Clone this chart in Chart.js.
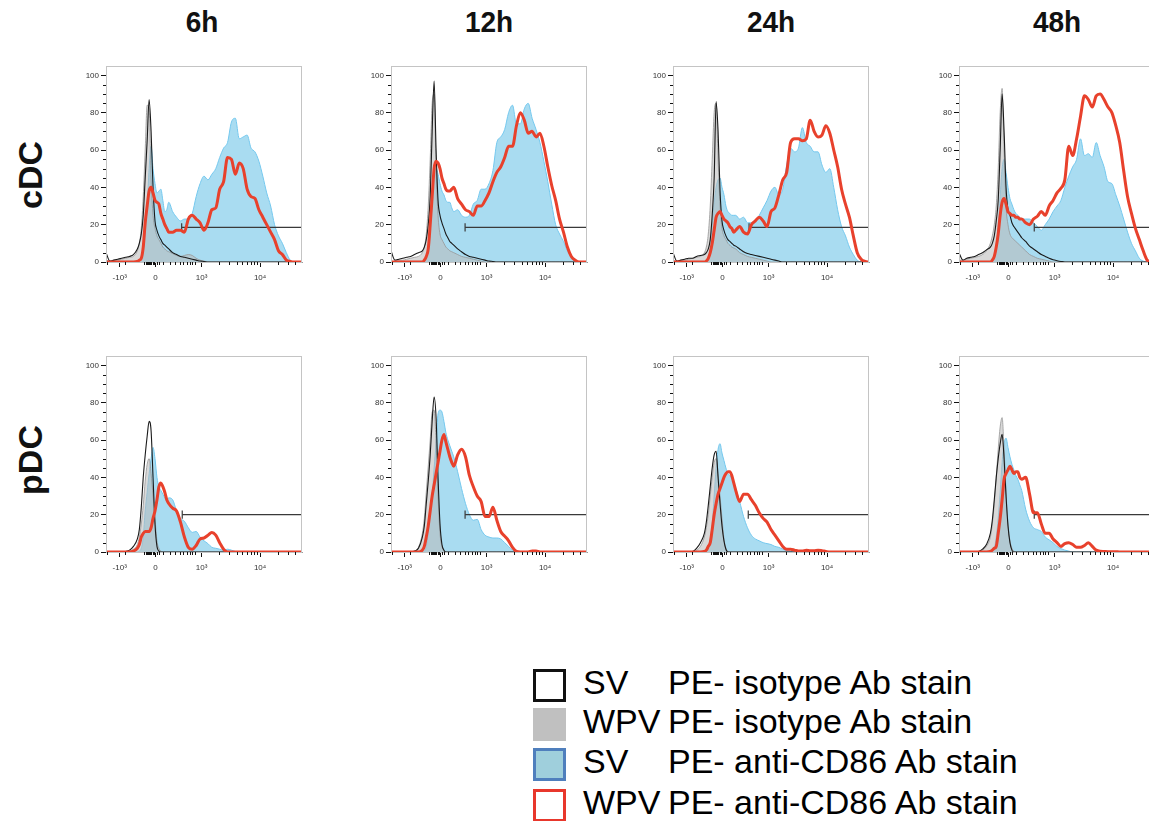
<!DOCTYPE html>
<html lang="en">
<head>
    <meta charset="UTF-8">
    <title>CD86 histograms</title>
    <script src="https://cdn.jsdelivr.net/npm/chart.js@4.4.1/dist/chart.umd.min.js"></script>
    <style>
        body { margin: 0; width: 1149px; height: 821px; overflow: hidden; background: #fff;
               font-family: "Liberation Sans", Arial, sans-serif; position: relative; }
        canvas { position: absolute; }
        .col-title { position: absolute; top: 6px; width: 196px; text-align: center;
                     font-weight: bold; font-size: 28px; color: #111; transform: scaleY(1.08); }
        .row-title { position: absolute; left: 30px; font-weight: bold; font-size: 34px; color: #111;
                     transform: translate(-50%, -50%) rotate(-90deg); white-space: nowrap; }
        .legend { position: absolute; left: 533px; top: 669px; }
        .leg-row { position: absolute; left: 0; height: 40px; width: 600px; font-size: 34px; color: #000; }
        .leg-box { position: absolute; left: 0; top: 0; width: 33px; height: 33px; box-sizing: border-box; }
        .leg-a { position: absolute; left: 50px; top: -6px; }
        .leg-b { position: absolute; left: 135px; top: -6px; }
    </style>
</head>
<body>
    <div class="col-title" style="left:104px">6h</div>
    <div class="col-title" style="left:391px">12h</div>
    <div class="col-title" style="left:673px">24h</div>
    <div class="col-title" style="left:959px">48h</div>
    <div class="row-title" style="top:175px">cDC</div>
    <div class="row-title" style="top:460px">pDC</div>

    <div class="legend">
        <div class="leg-row" style="top:0px">
            <div class="leg-box" style="border:3px solid #111;background:#fff"></div>
            <span class="leg-a">SV</span><span class="leg-b">PE- isotype Ab stain</span>
        </div>
        <div class="leg-row" style="top:39px">
            <div class="leg-box" style="background:#c0c0c0"></div>
            <span class="leg-a">WPV</span><span class="leg-b">PE- isotype Ab stain</span>
        </div>
        <div class="leg-row" style="top:79px">
            <div class="leg-box" style="border:3px solid #4f7fbd;background:#9fcfdc"></div>
            <span class="leg-a">SV</span><span class="leg-b">PE- anti-CD86 Ab stain</span>
        </div>
        <div class="leg-row" style="top:120px">
            <div class="leg-box" style="border:3px solid #e8372c;background:#fff"></div>
            <span class="leg-a">WPV</span><span class="leg-b">PE- anti-CD86 Ab stain</span>
        </div>
    </div>

    <script>
        // display channel positions (0 = left edge, 100 = right edge of each plot)
        const xs = [0, 2, 4, 6, 8, 10, 12, 14,
            16, 17, 18, 19, 20, 21, 22, 23, 24, 25, 26, 27, 28, 29, 30, 31, 32,
            34, 36, 38, 40, 42, 44, 46, 48, 50, 52, 54, 56, 58, 60, 62, 64, 66,
            68, 70, 72, 74, 76, 78, 80, 82, 84, 86, 88, 90, 92, 94, 96, 98, 100];

        const xMajorTicks = [7, 25.3, 48.8, 78.6];
        const xMajorLabels = ['-10³', '0', '10³', '10⁴'];
        const xMinorTicks = [0.7, 9.7, 19.6, 20.2, 20.8, 21.4, 22, 22.6, 23.2, 23.8, 24.4, 26.2, 26.8,
            29.1, 32.5, 35.3, 37.6, 39.5, 41.2, 42.7, 44, 45.2,
            57.8, 63, 66.7, 69.6, 72, 74, 75.5, 77, 87.6, 92.8, 96.5];

        const z = n => Array(n).fill(0);

        // ---- cDC 6h ----
        const cdc6SvIso = [5, 0.5, 1, 1.5, 2, 2.5, 3, 4,
            7, 10, 15, 25, 45, 65, 87, 70, 40, 22, 17, 14, 12, 10, 9, 8, 7,
            5, 4, 3, 2.5, 2, 1.5, 1, 0.5, 0.3, ...z(25)];
        const cdc6WpvIso = [1, 0.5, 1, 1, 1.5, 2, 2.5, 3,
            6, 10, 18, 35, 60, 84, 82, 45, 25, 18, 14, 12, 10, 8, 7, 6, 5.5,
            4.5, 3.5, 3, 3.5, 4, 3.5, 2, 1, 0.5, ...z(25)];
        const cdc6SvCd86 = [0, 0, 0, 0, 0, 0, 0, 0,
            0, 0.5, 2, 6, 15, 30, 50, 62, 50, 42, 37, 38, 39, 33, 27, 28, 32,
            27, 24, 22, 23, 23, 26, 35, 42, 46, 44, 47, 50, 56, 61, 64, 75, 77, 66, 67, 68, 61,
            59, 54, 46, 37, 30, 20, 14, 10, 5, 1, 0, 0, 0];
        const cdc6WpvCd86 = [0, 0, 0, 0, 0, 0, 0, 0,
            0.3, 1, 2, 8, 21, 30, 38, 40, 37, 33, 32, 31, 26, 23, 20, 18, 16,
            16, 17, 17, 16, 23, 25, 23, 21, 17, 21, 28, 29, 39, 43, 56, 55, 47, 53, 50, 39, 35,
            34, 28, 24, 20, 16, 12, 6, 4, 1, 0.3, 0, 0, 0];

        // ---- cDC 12h ----
        const cdc12SvIso = [6, 1, 1.5, 2, 2.5, 3, 4, 5,
            6, 8, 12, 20, 35, 70, 97, 60, 33, 25, 21, 18, 15, 13, 11, 10, 9,
            7, 5.5, 4, 3, 2.5, 2, 1.5, 1, 0.5, 0.3, ...z(24)];
        const cdc12WpvIso = [0, 0.5, 1, 1, 1.5, 2, 2.5, 3,
            5, 8, 15, 30, 55, 85, 90, 50, 25, 15, 12, 10, 8, 7, 6, 5.5, 5,
            4, 3, 2.5, 2, 1.5, 1, 0.5, ...z(27)];
        const cdc12SvCd86 = [0, 0, 0, 0, 0, 0, 0, 0,
            0, 0.5, 2, 8, 20, 38, 48, 50, 47, 42, 38, 36, 33, 32, 32, 29, 27,
            28, 25, 24, 25, 31, 33, 39, 39, 42, 49, 64, 67, 71, 80, 84, 74, 74, 82, 85, 77, 71,
            64, 54, 43, 31, 20, 15, 11, 6, 3, 1, 0, 0, 0];
        const cdc12WpvCd86 = [0, 0, 0, 0, 0, 0, 0, 0,
            0, 1, 3, 7, 20, 35, 50, 54, 53, 50, 45, 42, 39, 38, 38, 39, 40,
            34, 31, 28, 27, 25, 30, 30, 33, 37, 43, 48, 51, 56, 62, 62, 73, 80, 76, 69, 70, 67,
            69, 62, 51, 41, 33, 23, 16, 8, 3, 1, 0, 0, 0];

        // ---- cDC 24h ----
        const cdc24SvIso = [5, 0.5, 1, 1.5, 2, 2, 3, 3.5,
            4, 5, 7, 12, 25, 45, 86, 70, 38, 22, 17, 14, 12, 11, 10, 9, 8.5,
            7, 5.5, 4.5, 4, 3.5, 3, 2.5, 2, 1.5, 1, 0.5, ...z(23)];
        const cdc24WpvIso = [0.5, 0.5, 1, 1, 1.5, 2, 2.5, 3,
            5, 8, 15, 30, 55, 80, 85, 55, 30, 18, 14, 12, 10, 9, 8, 7.5, 7,
            5, 4, 3, 2.5, 2, 1.5, 1, 0.5, ...z(26)];
        const cdc24SvCd86 = [0, 0, 0, 0, 0, 0, 0, 0,
            0, 0.5, 2, 8, 20, 32, 40, 44, 45, 40, 36, 30, 27, 26, 25, 25, 25,
            23, 24, 21, 21, 22, 25, 29, 33, 38, 40, 36, 39, 52, 61, 59, 61, 72, 64, 62, 59, 59,
            52, 48, 50, 40, 28, 19, 14, 8, 4, 1, 0, 0, 0];
        const cdc24WpvCd86 = [0, 0, 0, 0, 0, 0, 0, 0,
            0, 0.5, 2, 5, 10, 17, 24, 26, 27, 25, 23, 22, 21, 19, 18, 16, 17,
            19, 16, 15, 20, 22, 24, 22, 19, 27, 29, 36, 44, 48, 64, 66, 66, 65, 66, 76, 70, 67,
            68, 73, 69, 60, 51, 39, 31, 24, 14, 5, 1.5, 0.3, 0];

        // ---- cDC 48h ----
        const cdc48SvIso = [5, 1, 2, 2.5, 3, 4, 5, 6.5,
            8, 10, 14, 22, 33, 60, 90, 70, 40, 28, 25, 21, 19, 17.5, 16, 14.5, 13,
            11, 8.5, 7, 5.5, 4, 3, 2, 1.2, 0.7, 0.3, ...z(24)];
        const cdc48WpvIso = [1, 1, 1.5, 2, 2.5, 3, 4, 6,
            10, 14, 20, 30, 50, 80, 93, 60, 30, 20, 15, 13, 12, 11, 10, 9, 8,
            6, 4, 3, 2, 1.5, 1, 0.5, ...z(27)];
        const cdc48SvCd86 = [0, 0, 0, 0, 0, 0, 0, 0,
            0, 0.5, 2, 8, 20, 35, 50, 55, 48, 40, 34, 31, 28, 26, 25, 24, 23,
            23, 23, 21, 19, 17, 20, 23, 27, 30, 33, 40, 46, 51, 55, 66, 57, 58, 56, 64, 57, 51,
            43, 42, 36, 30, 23, 16, 10, 6, 2, 0.5, 0, 0, 0];
        const cdc48WpvCd86 = [0, 0, 0, 0, 0, 0, 0, 0,
            0, 1, 3, 8, 15, 25, 32, 34, 31, 27, 26, 25, 25, 24, 24, 23, 23,
            21, 20, 23, 24.5, 27, 25, 30, 33, 37, 39.5, 44, 62, 57, 66, 78, 89, 87, 83, 89, 90, 87,
            83, 80, 73, 64, 49, 35, 26, 18, 12, 6, 1, 0, 0];

        // ---- pDC 6h ----
        const pdc6SvIso = [0, 0, 0, 0, 0, 0.3, 1, 3,
            7, 12, 24, 40, 52, 62, 70, 65, 40, 15, 3, 0.5, 0, 0, 0, 0, 0, ...z(34)];
        const pdc6WpvIso = [0, 0, 0, 0, 0, 0, 0.5, 1.5,
            4, 8, 15, 25, 38, 47, 50, 42, 30, 18, 6, 2, 0.5, 0, 0, 0, 0, ...z(34)];
        const pdc6SvCd86 = [0, 0, 0, 0, 0, 0, 0, 0,
            0, 0.5, 2, 8, 22, 32, 42, 50, 56, 50, 40, 35, 33, 31, 29, 28, 29,
            28, 22, 18, 16.5, 13, 10.5, 11, 8, 6, 4.5, 2.5, 2, 1.5, 1, 1.5, 1, 0.3, ...z(17)];
        const pdc6WpvCd86 = [0, 0, 0, 0, 0, 0, 0, 0.5,
            2, 4, 8, 10, 11, 11, 11, 13, 18, 22, 28, 35, 37, 35, 32, 28, 26,
            23.5, 22, 16, 8, 2.5, 1.5, 3.5, 7, 7.5, 9, 10.5, 9, 5, 1.5, ...z(20)];

        // ---- pDC 12h ----
        const pdc12SvIso = [0, 0, 0, 0, 0, 0, 0.5, 2,
            8, 14, 26, 38, 52, 70, 83, 72, 40, 15, 4, 1, 0, 0, 0, 0, 0, ...z(34)];
        const pdc12WpvIso = [0, 0, 0, 0, 0, 0, 0.5, 2.5,
            10, 18, 32, 46, 60, 75, 76, 58, 30, 10, 3, 1, 0, 0, 0, 0, 0, ...z(34)];
        const pdc12SvCd86 = [0, 0, 0, 0, 0, 0, 0, 0,
            0, 0.5, 3, 10, 20, 30, 45, 58, 74, 76, 75, 70, 64, 60, 57, 54, 51,
            43, 34, 26, 20, 17, 17.5, 12, 9, 8, 7.5, 7.5, 7, 5, 3, 1, 0.5, ...z(18)];
        const pdc12WpvCd86 = [0, 0, 0, 0, 0, 0, 0, 0,
            1, 3, 8, 14, 22, 30, 36, 42, 48, 54, 60, 63, 59, 55, 51, 48, 46,
            52, 55, 51, 41, 35, 30, 27, 19, 19, 24, 17, 11, 8.5, 6, 2.5, 0.3, 0, 0, 0, 0.5, 0.5, ...z(13)];

        // ---- pDC 24h ----
        const pdc24SvIso = [0, 0, 0, 0, 0, 0.3, 2, 5,
            10, 16, 25, 35, 45, 52, 54, 40, 26, 14, 6, 1.5, 0, 0, 0, 0, 0, ...z(34)];
        const pdc24WpvIso = [0, 0, 0, 0, 0, 0, 1, 3,
            8, 13, 20, 30, 40, 48, 50, 42, 30, 18, 7, 2, 0.5, 0, 0, 0, 0, ...z(34)];
        const pdc24SvCd86 = [0, 0, 0, 0, 0, 0, 0, 0,
            0, 0.5, 2, 7, 15, 30, 45, 55, 58, 53, 49, 45, 42, 41, 39, 37, 34,
            27, 19, 13, 9, 7, 6, 5, 4.5, 4, 3, 2.5, 1.5, 0.7, 0.3, ...z(20)];
        const pdc24WpvCd86 = [0, 0, 0, 0, 0, 0, 0, 0,
            0.3, 1, 3, 5, 12, 20, 26, 31, 34, 37, 40, 42, 43, 43, 41, 37, 33,
            27, 31, 31, 28, 25, 21, 18, 16, 12, 9, 6, 3, 1.5, 1.5, 1, 0.5, 0.5, 1, 0.7, 0.7, 1,
            0.7, 0.3, ...z(11)];

        // ---- pDC 48h ----
        const pdc48SvIso = [0, 0, 0, 0, 0, 0.3, 1.5, 4,
            10, 17, 28, 40, 50, 58, 63, 50, 30, 14, 5, 1, 0, 0, 0, 0, 0, ...z(34)];
        const pdc48WpvIso = [0, 0, 0, 0, 0, 0.3, 1, 3,
            8, 15, 26, 40, 55, 67, 72, 55, 32, 15, 6, 2, 0.5, 0, 0, 0, 0, ...z(34)];
        const pdc48SvCd86 = [0, 0, 0, 0, 0, 0, 0, 0,
            0, 0.5, 2, 8, 18, 32, 48, 58, 61, 56, 51, 47, 44, 41, 39, 36, 33,
            23, 16.5, 13, 12, 11, 8, 6.5, 5, 3, 1.8, 1, 0.5, ...z(22)];
        const pdc48WpvCd86 = [0, 0, 0, 0, 0, 0, 0, 0,
            0.3, 1, 2, 3, 10, 18, 28, 39, 42, 44, 46, 44, 42, 43, 43, 40, 39,
            40, 31, 21, 21, 15, 10, 10, 7, 5, 3, 4.5, 5, 4, 2.5, 2.5, 3.5, 5, 3, 1, 0.4, 0.3,
            0.2, 0.2, 0.2, ...z(10)];

        // gate start (display units) and gate height (% of max)
        const gateStart = [38.6, 37.8, 38.8, 38.4, 38.9, 37.8, 38.4, 38.4];
        const gateLevel = [18.6, 18.6, 18.6, 18.6, 20, 20, 20, 20];

        const panels = [
            [cdc6SvIso, cdc6WpvIso, cdc6SvCd86, cdc6WpvCd86],
            [cdc12SvIso, cdc12WpvIso, cdc12SvCd86, cdc12WpvCd86],
            [cdc24SvIso, cdc24WpvIso, cdc24SvCd86, cdc24WpvCd86],
            [cdc48SvIso, cdc48WpvIso, cdc48SvCd86, cdc48WpvCd86],
            [pdc6SvIso, pdc6WpvIso, pdc6SvCd86, pdc6WpvCd86],
            [pdc12SvIso, pdc12WpvIso, pdc12SvCd86, pdc12WpvCd86],
            [pdc24SvIso, pdc24WpvIso, pdc24SvCd86, pdc24WpvCd86],
            [pdc48SvIso, pdc48WpvIso, pdc48SvCd86, pdc48WpvCd86]
        ];

        const plotLefts = [106, 391, 673, 959];
        const plotTops = [66, 356];
        const AXW = 50, AXH = 28, PADT = 12, PLOT = 196;

        const pts = arr => arr.map((v, i) => ({ x: xs[i], y: v }));

        // frame + minor ticks
        const framePlugin = {
            id: 'frame',
            afterDraw(chart) {
                const { ctx, chartArea: a, scales } = chart;
                ctx.save();
                ctx.strokeStyle = '#c4c4c4';
                ctx.lineWidth = 1;
                ctx.strokeRect(a.left + 0.5, a.top + 0.5, a.right - a.left - 1, a.bottom - a.top);
                ctx.strokeStyle = '#111';
                ctx.beginPath();
                xMinorTicks.forEach(v => {
                    const px = Math.round(scales.x.getPixelForValue(v)) + 0.5;
                    ctx.moveTo(px, a.bottom);
                    ctx.lineTo(px, a.bottom + 3);
                });
                for (let v = 5; v <= 100; v += 5) {
                    if (v % 20 === 0) continue;
                    const py = Math.round(scales.y.getPixelForValue(v)) + 0.5;
                    ctx.moveTo(a.left - 3, py);
                    ctx.lineTo(a.left, py);
                }
                ctx.stroke();
                ctx.restore();
            }
        };

        panels.forEach((series, p) => {
            const col = p % 4, row = Math.floor(p / 4);
            const canvas = document.createElement('canvas');
            canvas.width = AXW + PLOT + 4;
            canvas.height = PADT + PLOT + AXH;
            canvas.style.left = (plotLefts[col] - AXW) + 'px';
            canvas.style.top = (plotTops[row] - PADT) + 'px';
            document.body.appendChild(canvas);

            const [svIso, wpvIso, svCd86, wpvCd86] = series;
            const g0 = gateStart[p], gy = gateLevel[p];

            new Chart(canvas, {
                type: 'line',
                data: {
                    datasets: [
                        {
                            data: pts(svCd86), fill: 'origin', order: 5,
                            backgroundColor: 'rgba(160,216,240,0.9)', borderColor: '#74c8ee', borderWidth: 1
                        },
                        {
                            data: pts(wpvIso), fill: 'origin', order: 4,
                            backgroundColor: 'rgba(185,185,185,0.55)', borderColor: 'rgba(150,150,150,0.8)', borderWidth: 1
                        },
                        {
                            data: pts(svIso), fill: false, order: 3,
                            borderColor: '#1a1a1a', borderWidth: 1.1
                        },
                        {
                            data: [{ x: g0, y: gy }, { x: 100, y: gy }], fill: false, order: 2,
                            borderColor: '#3a3a3a', borderWidth: 1.2, tension: 0
                        },
                        {
                            data: [{ x: g0, y: gy - 2.2 }, { x: g0, y: gy + 2.2 }], fill: false, order: 2,
                            borderColor: '#3a3a3a', borderWidth: 1.2, tension: 0
                        },
                        {
                            data: pts(wpvCd86), fill: false, order: 1,
                            borderColor: '#e8412c', borderWidth: 3
                        }
                    ]
                },
                options: {
                    responsive: false,
                    animation: false,
                    devicePixelRatio: 1,
                    layout: { padding: { top: PADT, right: 4, left: 0, bottom: 0 } },
                    elements: {
                        point: { radius: 0 },
                        line: { cubicInterpolationMode: 'monotone', borderJoinStyle: 'round' }
                    },
                    plugins: { legend: { display: false }, tooltip: { enabled: false } },
                    scales: {
                        x: {
                            type: 'linear', min: 0, max: 100,
                            afterFit: s => { s.height = AXH; },
                            afterBuildTicks: s => { s.ticks = xMajorTicks.map(v => ({ value: v })); },
                            ticks: {
                                autoSkip: false, maxRotation: 0, padding: 6,
                                font: { size: 8, family: 'Liberation Sans' }, color: '#333',
                                callback: (v, i) => xMajorLabels[i]
                            },
                            grid: { drawOnChartArea: false, tickLength: 5, tickColor: '#111' },
                            border: { color: '#9a9a9a' }
                        },
                        y: {
                            min: 0, max: 105,
                            afterFit: s => { s.width = AXW; },
                            afterBuildTicks: s => { s.ticks = [0, 20, 40, 60, 80, 100].map(v => ({ value: v })); },
                            ticks: {
                                padding: 2,
                                font: { size: 8, family: 'Liberation Sans' }, color: '#333'
                            },
                            grid: { drawOnChartArea: false, tickLength: 5, tickColor: '#111' },
                            border: { color: '#9a9a9a' }
                        }
                    }
                },
                plugins: [framePlugin]
            });
        });
    </script>
</body>
</html>
